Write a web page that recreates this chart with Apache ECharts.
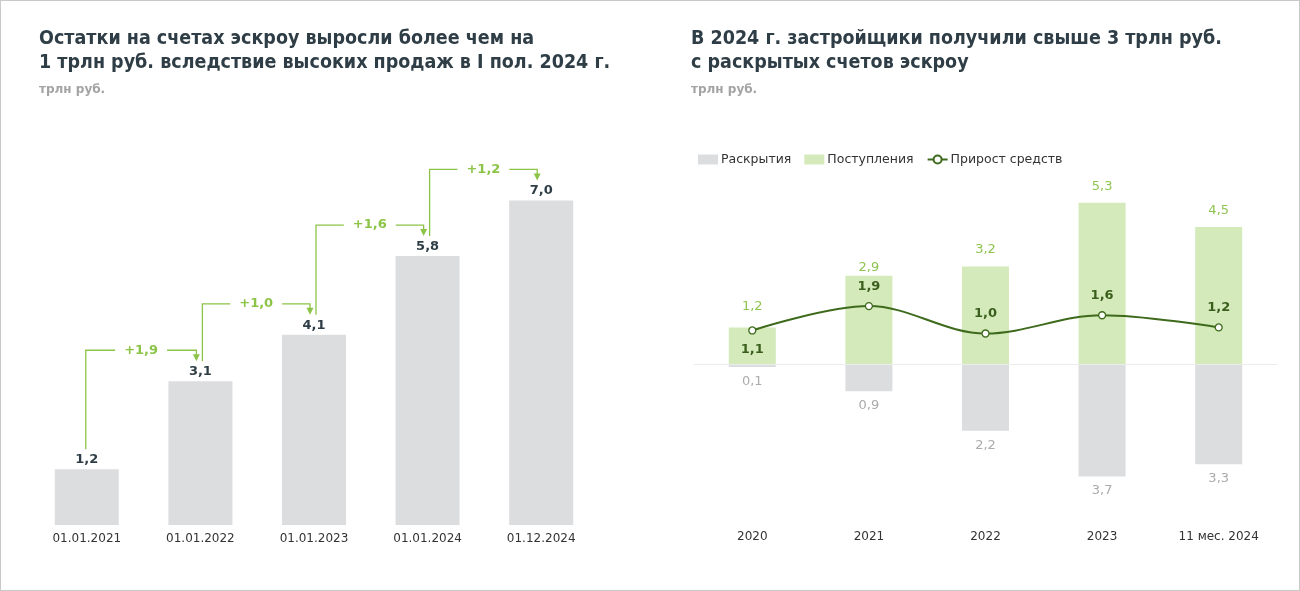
<!DOCTYPE html>
<html><head><meta charset="utf-8">
<script src="https://cdn.jsdelivr.net/npm/echarts@6/dist/echarts.min.js"></script>
<style>
html,body{margin:0;padding:0;background:#fff;}
#c{width:1300px;height:591px;box-sizing:border-box;border:1px solid #c9c9c9;}
</style></head>
<body><div id="c"></div>
<script>
// Left chart data
const leftCategories = ['01.01.2021','01.01.2022','01.01.2023','01.01.2024','01.12.2024'];
const balances = [1.2, 3.1, 4.1, 5.8, 7.0];
const increments = [1.9, 1.0, 1.6, 1.2];
// Right chart data
const rightCategories = ['2020','2021','2022','2023','11 мес. 2024'];
const disclosures = [-0.1, -0.9, -2.2, -3.7, -3.3];
const inflows = [1.2, 2.9, 3.2, 5.3, 4.5];
const growth = [1.1, 1.9, 1.0, 1.6, 1.2];

const fmt = v => Math.abs(v).toFixed(1).replace('.', ',');
const FONT = 'DejaVu Sans';
const TITLE_FONT = 'DejaVu Sans Condensed';
const GREEN = '#8cc447';
const DARK = '#2f3e46';

const chart = echarts.init(document.getElementById('c'));

const inflowLabelDist = [14, 2, 10, 10, 10];
const growthLabelPos = ['bottom','top','top','top','top'];

chart.setOption({
  animation: false,
  textStyle: {fontFamily: FONT},
  title: [
    {text: 'Остатки на счетах эскроу выросли более чем на\n1 трлн руб. вследствие высоких продаж в I пол. 2024 г.',
     left: 33, top: 21, textStyle: {fontFamily: TITLE_FONT, fontWeight: 'bold', fontSize: 19.5, color: DARK, lineHeight: 24}},
    {text: 'трлн руб.', left: 33, top: 78, textStyle: {fontFamily: FONT, fontWeight: 'bold', fontSize: 12, color: '#a3a3a3'}},
    {text: 'В 2024 г. застройщики получили свыше 3 трлн руб.\nс раскрытых счетов эскроу',
     left: 685, top: 21, textStyle: {fontFamily: TITLE_FONT, fontWeight: 'bold', fontSize: 19.5, color: DARK, lineHeight: 24}},
    {text: 'трлн руб.', left: 685, top: 78, textStyle: {fontFamily: FONT, fontWeight: 'bold', fontSize: 12, color: '#a3a3a3'}}
  ],
  legend: {
    left: 692, top: 147, itemGap: 13, itemWidth: 20, itemHeight: 10,
    textStyle: {fontFamily: FONT, fontSize: 12.5, color: '#333', padding: [0,0,0,-2]},
    data: [
      {name: 'Раскрытия', icon: 'rect'},
      {name: 'Поступления', icon: 'rect'},
      {name: 'Прирост средств'}
    ]
  },
  grid: [
    {left: 29, right: 701, top: 153, bottom: 65},
    {left: 693, right: 22, top: 180.4, bottom: 74}
  ],
  xAxis: [
    {type: 'category', gridIndex: 0, data: leftCategories,
     axisLine: {show: false}, axisTick: {show: false},
     axisLabel: {color: '#333', fontSize: 12, margin: 8, fontFamily: FONT}},
    {type: 'category', gridIndex: 1, data: rightCategories,
     axisLine: {show: false}, axisTick: {show: false},
     axisLabel: {color: '#333', fontSize: 12, margin: 15, fontFamily: FONT}}
  ],
  yAxis: [
    {type: 'value', gridIndex: 0, min: 0, max: 8, show: false},
    {type: 'value', gridIndex: 1, min: -5, max: 6, show: false}
  ],
  series: [
    {
      type: 'bar', xAxisIndex: 0, yAxisIndex: 0, data: balances, barWidth: 64,
      itemStyle: {color: '#dcdddf'},
      label: {show: true, position: 'top', distance: 3, formatter: p => fmt(p.value),
              fontFamily: FONT, fontWeight: 'bold', fontSize: 13, color: DARK}
    },
    {
      type: 'custom', xAxisIndex: 0, yAxisIndex: 0, z: 5,
      data: increments.map((v, i) => [i, v]),
      renderItem: function (params, api) {
        const i = api.value(0);
        const p0 = api.coord([i, balances[i]]);
        const p1 = api.coord([i + 1, balances[i + 1]]);
        const x0 = p0[0] - 1 + (i > 0 ? 3 : 0);
        const x1 = p1[0] - 4;
        const startY = p0[1] - 20;
        const tipY = p1[1] - 20;
        const levelY = p1[1] - 31;
        const ls = {stroke: GREEN, lineWidth: 1.3, fill: null};
        return {
          type: 'group',
          children: [
            {type: 'polyline', shape: {points: [[x0, startY], [x0, levelY], [x1, levelY], [x1, tipY - 6]]}, style: ls},
            {type: 'polygon', shape: {points: [[x1 - 3.5, tipY - 7], [x1 + 3.5, tipY - 7], [x1, tipY]]}, style: {fill: GREEN}},
            {type: 'text', x: (x0 + x1) / 2, y: levelY,
             style: {text: '+' + fmt(api.value(1)), fill: GREEN, font: 'bold 13px "DejaVu Sans"',
                     align: 'center', verticalAlign: 'middle', backgroundColor: '#fff', padding: [2, 9]}}
          ]
        };
      }
    },
    {
      name: 'Раскрытия', type: 'bar', xAxisIndex: 1, yAxisIndex: 1, stack: 's', data: disclosures, barWidth: 47,
      itemStyle: {color: '#dcdddf'},
      label: {show: true, position: 'bottom', distance: 8, formatter: p => fmt(p.value),
              fontFamily: FONT, fontSize: 13, color: '#ababab'},
      markLine: {silent: true, symbol: 'none', label: {show: false},
                 lineStyle: {color: '#ececec', width: 1, type: 'solid'}, data: [{yAxis: 0}]}
    },
    {
      name: 'Поступления', type: 'bar', xAxisIndex: 1, yAxisIndex: 1, stack: 's', barWidth: 47,
      data: inflows.map((v, i) => ({value: v, label: {distance: inflowLabelDist[i]}})),
      itemStyle: {color: '#d4eabb'},
      label: {show: true, position: 'top', formatter: p => fmt(p.value),
              fontFamily: FONT, fontSize: 13, color: '#8fc450'}
    },
    {
      name: 'Прирост средств', type: 'line', xAxisIndex: 1, yAxisIndex: 1, smooth: 0.35, z: 10,
      data: growth.map((v, i) => ({value: v, label: {position: growthLabelPos[i]}})),
      symbol: 'circle', symbolSize: 7,
      lineStyle: {color: '#3e6a1c', width: 2},
      itemStyle: {color: '#fff', borderColor: '#3e6a1c', borderWidth: 1.3},
      label: {show: true, distance: 9, formatter: p => fmt(p.value),
              fontFamily: FONT, fontWeight: 'bold', fontSize: 13, color: '#3a5f1c'}
    }
  ]
});
</script></body></html>
